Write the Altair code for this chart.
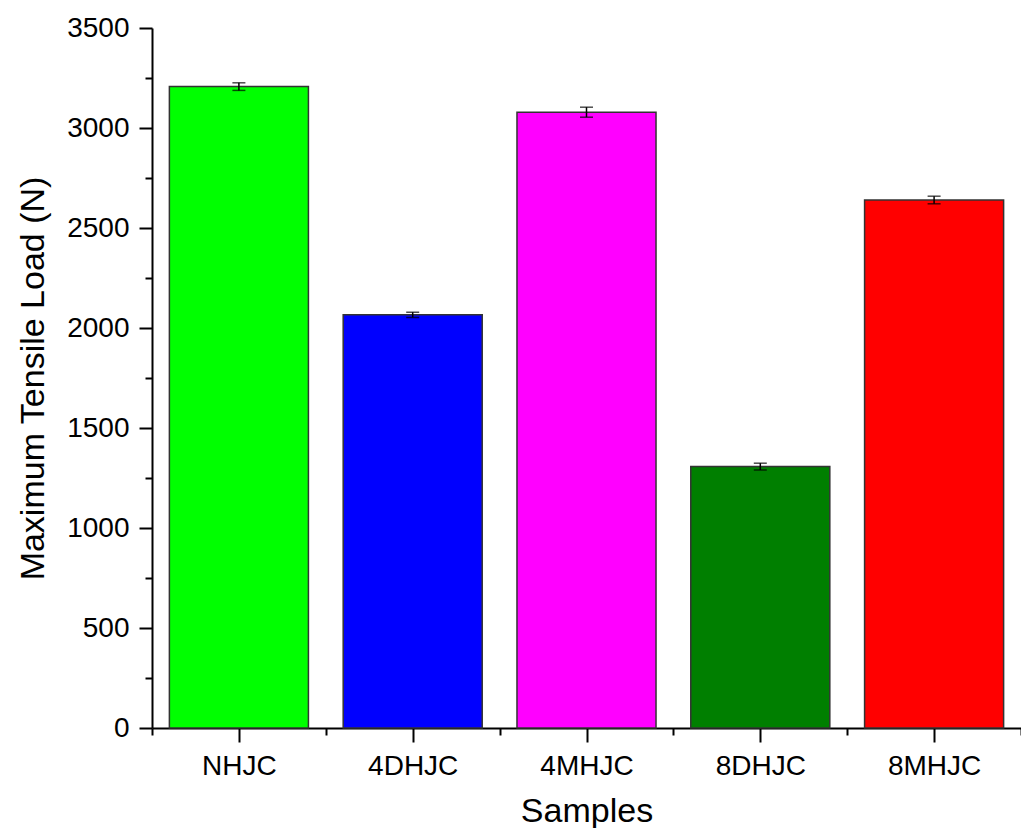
import altair as alt
import pandas as pd

samples = ["NHJC", "4DHJC", "4MHJC", "8DHJC", "8MHJC"]
loads = [3207, 2066, 3079, 1307, 2640]
errors = [19, 13, 25, 17, 19]
colors = ["#00FF00", "#0000FF", "#FF00FF", "#007F00", "#FF0000"]

y_ticks = list(range(0, 3501, 250))
x_ticks = [i / 2 for i in range(1, 12)]

df = pd.DataFrame({
    "sample": samples,
    "idx": list(range(1, len(samples) + 1)),
    "load": loads,
    "err": errors,
})

FONT = "Liberation Sans"
label_list = "[" + ",".join("'" + s + "'" for s in samples) + "]"

x_scale = alt.Scale(domain=[0.5, len(samples) + 0.5], nice=False, zero=False, padding=0)
y_scale = alt.Scale(domain=[0, 3500], nice=False, padding=0)

x_axis = alt.Axis(
    values=x_ticks,
    labelExpr="datum.value % 1 === 0 ? " + label_list + "[datum.value - 1] : ''",
    tickSize=alt.ExprRef(expr="datum.value % 1 === 0 ? 14 : 7"),
    title="Samples",
    grid=False,
    domainColor="black", domainWidth=2,
    tickColor="black", tickWidth=2,
    labelFont=FONT, labelFontSize=28, labelColor="black", labelPadding=10,
    labelFlush=False,
    titleFont=FONT, titleFontSize=34, titleFontWeight="normal", titleColor="black",
    titlePadding=14,
)
y_axis = alt.Axis(
    values=y_ticks,
    labelExpr="datum.value % 500 === 0 ? datum.label : ''",
    tickSize=alt.ExprRef(expr="datum.value % 500 === 0 ? 13 : 7"),
    title="Maximum Tensile Load (N)",
    grid=False,
    format="d",
    domainColor="black", domainWidth=2,
    tickColor="black", tickWidth=2,
    labelFont=FONT, labelFontSize=28, labelColor="black", labelPadding=10,
    labelFlush=False,
    titleFont=FONT, titleFontSize=34, titleFontWeight="normal", titleColor="black",
    titlePadding=16,
)

base = alt.Chart(df).transform_calculate(
    lo="datum.idx - 0.4", hi="datum.idx + 0.4",
    elo="datum.load - datum.err", ehi="datum.load + datum.err",
)

bars = base.mark_bar(stroke="#333333", strokeWidth=1.5).encode(
    x=alt.X("lo:Q", scale=x_scale, axis=x_axis),
    x2="hi:Q",
    y=alt.Y("load:Q", scale=y_scale, axis=y_axis),
    y2=alt.datum(0),
    color=alt.Color("sample:N", scale=alt.Scale(domain=samples, range=colors), legend=None),
)

stems = base.mark_rule(color="black", strokeWidth=1.5).encode(
    x=alt.X("idx:Q", scale=x_scale),
    y=alt.Y("elo:Q", scale=y_scale),
    y2="ehi:Q",
)
caps_hi = base.mark_tick(orient="horizontal", size=13, thickness=1.5, color="black").encode(
    x=alt.X("idx:Q", scale=x_scale),
    y=alt.Y("ehi:Q", scale=y_scale),
)
caps_lo = base.mark_tick(orient="horizontal", size=13, thickness=1.5, color="black").encode(
    x=alt.X("idx:Q", scale=x_scale),
    y=alt.Y("elo:Q", scale=y_scale),
)

chart = (
    alt.layer(bars, stems, caps_hi, caps_lo)
    .properties(
        width=869,
        height=700,
        background="white",
        autosize=alt.AutoSizeParams(type="none"),
        padding={"left": 144, "top": 20, "right": 0, "bottom": 100},
    )
    .configure_view(strokeWidth=0, strokeOpacity=0)
)

chart.save("out.html", embed_options={"renderer": "svg", "actions": False})
